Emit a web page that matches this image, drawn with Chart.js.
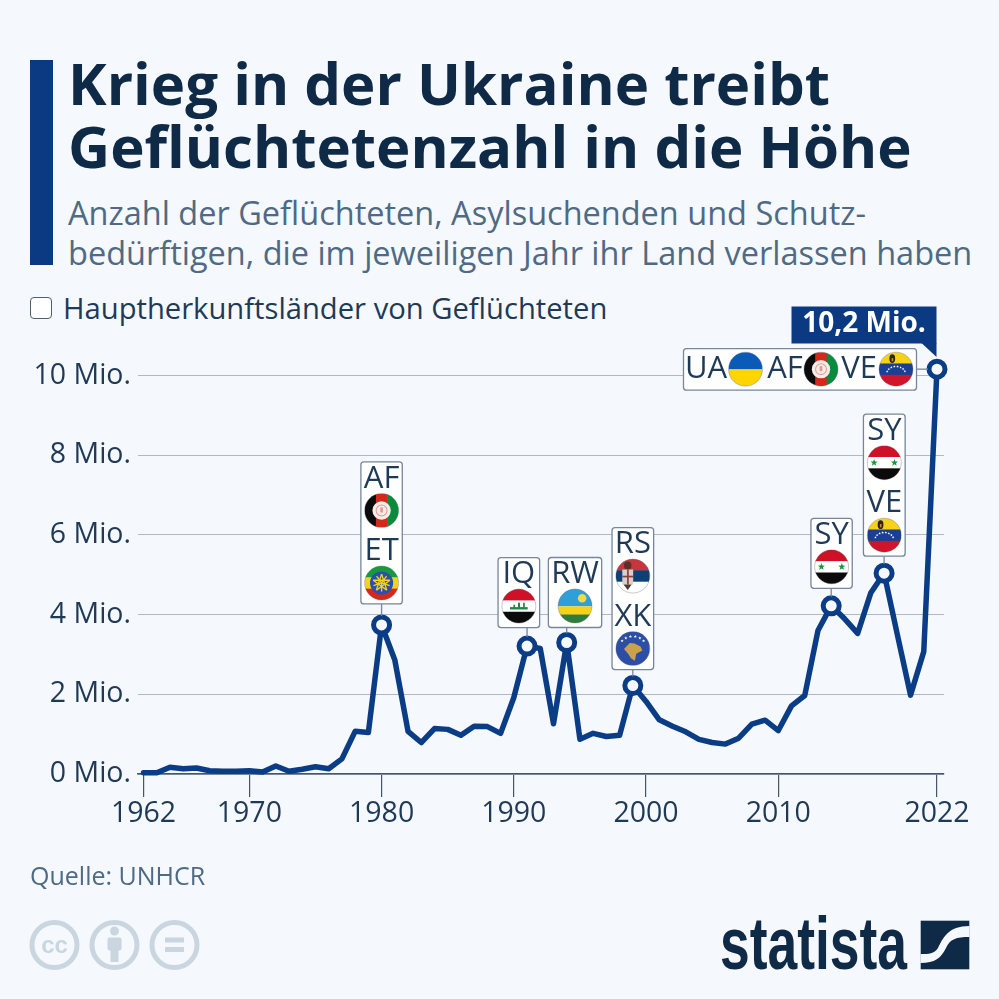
<!DOCTYPE html>
<html lang="de">
<head>
<meta charset="utf-8">
<title>Krieg in der Ukraine treibt Geflüchtetenzahl in die Höhe</title>
<script src="https://cdn.jsdelivr.net/npm/chart.js@4/dist/chart.umd.js"></script>
<style>
html,body{margin:0;padding:0;background:#f5f8fc;width:999px;height:999px;overflow:hidden;font-family:"Open Sans",sans-serif}
#chart{position:absolute;left:0;top:0}
.t{position:absolute;white-space:nowrap}
#bar{position:absolute;left:30px;top:60px;width:23px;height:205px;background:#0b3a82}
#title{left:68px;top:51px;font-size:58.2px;line-height:63px;font-weight:700;color:#0f2a47}
#sub{left:68px;top:193px;font-size:32.5px;line-height:40px;color:#4f6a85}
#check{position:absolute;left:30px;top:297px;width:20px;height:20px;background:#fff;border:1.5px solid #4c5f73;border-radius:4px}
#legend{left:63px;top:289px;font-size:29.2px;line-height:38px;color:#1f3a56}
#src{left:30px;top:860px;font-size:25px;line-height:30px;color:#4f6a85}
svg{position:absolute;left:0;top:0}
</style>
</head>
<body>
<div id="bar"></div>
<div class="t" id="title">Krieg in der Ukraine treibt<br>Geflüchtetenzahl in die Höhe</div>
<div class="t" id="sub">Anzahl der Geflüchteten, Asylsuchenden und Schutz-<br>bedürftigen, die im jeweiligen Jahr ihr Land verlassen haben</div>
<div id="check"></div>
<div class="t" id="legend">Hauptherkunftsländer von Geflüchteten</div>
<canvas id="chart" width="999" height="999"></canvas>
<div class="t" id="src">Quelle: UNHCR</div>
<svg width="999" height="999" viewBox="0 0 999 999">
  <g fill="none" stroke="#c9d6e0" stroke-width="5">
    <circle cx="54.5" cy="945" r="22.5"/><circle cx="114.5" cy="945" r="22.5"/><circle cx="174.5" cy="945" r="22.5"/>
  </g>
  <text x="54.5" y="953" text-anchor="middle" font-family="Liberation Sans" font-weight="700" font-size="24" fill="#c9d6e0">cc</text>
  <g fill="#c9d6e0">
    <circle cx="114.5" cy="931" r="4.5"/><rect x="107.5" y="937.5" width="14" height="13" rx="2"/><rect x="110.5" y="945" width="8" height="17"/>
    <rect x="165" y="937.5" width="19" height="5"/><rect x="165" y="947" width="19" height="5"/>
  </g>
  <text x="720" y="969.3" font-family="Liberation Sans Narrow, Liberation Sans" font-weight="700" font-size="74" fill="#0f2a47" textLength="187" lengthAdjust="spacingAndGlyphs">statista</text>
  <rect x="920.7" y="920.7" width="48.6" height="48.6" fill="#0f2a47"/>
  <path d="M969.5 926 C948 926 943 938 938 948 C934 954 929 954 920.5 954 V963 C935 963 941 958 946 948 C950 939 956 937 969.5 937 Z" fill="#f5f8fc"/>
</svg>
<script>
const years = [1962,1963,1964,1965,1966,1967,1968,1969,1970,1971,1972,1973,1974,1975,1976,1977,1978,1979,1980,1981,1982,1983,1984,1985,1986,1987,1988,1989,1990,1991,1992,1993,1994,1995,1996,1997,1998,1999,2000,2001,2002,2003,2004,2005,2006,2007,2008,2009,2010,2011,2012,2013,2014,2015,2016,2017,2018,2019,2020,2021,2022];
const refugees = [0.03,0.03,0.17,0.13,0.15,0.08,0.07,0.07,0.08,0.05,0.2,0.07,0.12,0.18,0.13,0.38,1.07,1.04,3.74,2.86,1.07,0.79,1.14,1.12,0.97,1.2,1.19,1.02,1.92,3.21,3.15,1.26,3.3,0.87,1.02,0.94,0.97,2.22,1.82,1.36,1.2,1.06,0.87,0.79,0.75,0.9,1.25,1.35,1.09,1.71,1.97,3.6,4.22,3.9,3.53,4.55,5.04,3.5,1.98,3.07,10.16];
const yTicks = [0,2,4,6,8,10];
const xTicks = [1962,1970,1980,1990,2000,2010,2022];
const markerYears = [1980,1991,1994,1999,2014,2018,2022];
const annoYears = [1980,1991,1994,1999,2014,2018];
const annoCodes = [['AF','ET'],['IQ'],['RW'],['RS','XK'],['SY'],['SY','VE']];
const topYear = 2022;
const topCodes = ['UA','AF','VE'];
const topLabel = '10,2 Mio.';

const NAVY='#0b3c86', INK='#1f3a56', BORDER='#77869a', GRID='#aeb9c6';

function band(c,r,cols,vertical){
  const n=cols.length;
  cols.forEach((col,i)=>{c.fillStyle=col;
    if(vertical)c.fillRect(-r+2*r*i/n,-r,2*r/n+.5,2*r);
    else c.fillRect(-r,-r+2*r*i/n,2*r,2*r/n+.5);});
}
function star(c,x,y,r,col){
  c.fillStyle=col;c.beginPath();
  for(let i=0;i<10;i++){const a=-Math.PI/2+i*Math.PI/5,q=i%2?r*.42:r;c.lineTo(x+q*Math.cos(a),y+q*Math.sin(a));}
  c.closePath();c.fill();
}
const flags={
  UA(c,r){band(c,r,['#0a5bb8','#ffd500']);},
  AF(c,r){band(c,r,['#0b0b0b','#d5281b','#0a8a3c'],true);
    c.fillStyle='#f8ece9';c.beginPath();c.arc(0,0,r*.54,0,7);c.fill();
    c.strokeStyle='#e39a90';c.lineWidth=r*.06;c.beginPath();c.arc(0,0,r*.32,0,7);c.stroke();
    c.fillStyle='#e39a90';c.fillRect(-r*.08,-r*.18,r*.16,r*.3);},
  ET(c,r){band(c,r,['#179a3f','#f4d31c','#d5281b']);
    c.fillStyle='#2a4fb0';c.beginPath();c.arc(0,0,r*.68,0,7);c.fill();
    c.strokeStyle='#f4d31c';c.lineWidth=r*.08;
    for(let i=0;i<5;i++){const a=-Math.PI/2+i*2*Math.PI/5,b=a+Math.PI*.8,e=a+Math.PI/5;
      c.beginPath();c.moveTo(Math.cos(a)*r*.52,Math.sin(a)*r*.52);c.lineTo(Math.cos(b)*r*.52,Math.sin(b)*r*.52);c.stroke();
      c.beginPath();c.moveTo(0,0);c.lineTo(Math.cos(e)*r*.5,Math.sin(e)*r*.5);c.stroke();}},
  IQ(c,r){band(c,r,['#ce1126','#ffffff','#0b0b0b']);
    c.fillStyle='#1d8a45';c.fillRect(-r*.52,r*.06,r*1.04,r*.14);c.fillRect(-r*.05,-r*.2,r*.12,r*.3);c.fillRect(r*.25,-r*.2,r*.1,r*.3);c.fillRect(-r*.32,-r*.08,r*.1,r*.2);},
  RW(c,r){c.fillStyle='#2f9fd8';c.fillRect(-r,-r,2*r,r*1.02);c.fillStyle='#f6d21a';c.fillRect(-r,r*.02,2*r,r*.5);c.fillStyle='#2f7d3c';c.fillRect(-r,r*.5,2*r,r*.5);
    c.fillStyle='#f4d84a';c.beginPath();c.arc(r*.42,-r*.45,r*.25,0,7);c.fill();},
  RS(c,r){band(c,r,['#c6363c','#0c4076','#ffffff']);
    c.fillStyle='#5b2f2a';c.beginPath();c.ellipse(-r*.3,-r*.62,r*.22,r*.24,0,0,7);c.fill();
    c.fillStyle='#d9cfc8';c.fillRect(-r*.62,-r*.38,r*.64,r*.88);
    c.fillStyle='#8a3f3c';c.fillRect(-r*.34,-r*.38,r*.1,r*.88);c.fillRect(-r*.62,-r*.02,r*.64,r*.1);
    c.fillStyle='#4a3a34';c.beginPath();c.moveTo(-r*.55,r*.5);c.lineTo(-r*.07,r*.5);c.lineTo(-r*.3,r*.82);c.closePath();c.fill();},
  XK(c,r){c.fillStyle='#2c4ea6';c.fillRect(-r,-r,2*r,2*r);
    c.fillStyle='#c9a24a';c.beginPath();
    [[-.52,.02],[-.18,-.32],[.1,-.3],[.45,-.12],[.56,.12],[.2,.3],[.12,.72],[-.1,.58],[-.28,.3]].forEach(p=>c.lineTo(p[0]*r,p[1]*r));c.closePath();c.fill();
    for(let i=0;i<6;i++){const a=-Math.PI*(.78-.112*i);star(c,Math.cos(a)*r*.82,Math.sin(a)*r*.74+r*.02,r*.1,'#fff');}},
  SY(c,r){band(c,r,['#ce1126','#ffffff','#0b0b0b']);star(c,-r*.6,0,r*.22,'#179a3f');star(c,r*.6,0,r*.22,'#179a3f');},
  VE(c,r){band(c,r,['#f7d116','#1a3f95','#cf142b']);
    for(let i=0;i<8;i++){const a=-Math.PI*(.88-.108*i);star(c,Math.cos(a)*r*.56,Math.sin(a)*r*.46+r*.3,r*.08,'#fff');}
    c.fillStyle='#2a2416';c.beginPath();c.ellipse(-r*.22,-r*.62,r*.17,r*.26,0,0,7);c.fill();
    c.fillStyle='#c08a2a';c.fillRect(-r*.26,-r*.66,r*.1,r*.2);}
};
function drawFlag(c,code,x,y,r){
  c.save();c.translate(x,y);c.beginPath();c.arc(0,0,r,0,Math.PI*2);c.clip();
  flags[code](c,r);
  c.restore();
  c.save();c.strokeStyle='rgba(90,100,110,.35)';c.lineWidth=1;c.beginPath();c.arc(x,y,r,0,Math.PI*2);c.stroke();c.restore();
}
function roundBox(c,x,y,w,h){
  c.save();c.beginPath();c.roundRect(x,y,w,h,3);c.fillStyle='#fff';c.fill();c.strokeStyle=BORDER;c.lineWidth=1.3;c.stroke();c.restore();
}
function line(c,x1,y1,x2,y2){c.save();c.strokeStyle=BORDER;c.lineWidth=1.3;c.beginPath();c.moveTo(x1,y1);c.lineTo(x2,y2);c.stroke();c.restore();}
function label(c,txt,x,y,size,col,weight){
  c.save();c.font=(weight||'400')+' '+size+'px "Open Sans"';c.fillStyle=col;c.textAlign='center';c.textBaseline='middle';c.fillText(txt,x,y+1);c.restore();
}

const annoLayout = {1980:{w:41.4,dx:0,gap:21},1991:{w:41.6,dx:-8.2,gap:18.5},1994:{w:53.3,dx:8.3,gap:15},1999:{w:41.6,dx:0,gap:16},2014:{w:41.3,dx:.4,gap:17.5},2018:{w:41.7,dx:.2,gap:17}};

const annotations = {
  id:'annotations',
  afterDatasetsDraw(ch){
    const c=ch.ctx,X=ch.scales.x,Y=ch.scales.y;
    annoYears.forEach((yr,i)=>{
      const codes=annoCodes[i],L=annoLayout[yr];
      const px=X.getPixelForValue(yr),py=Y.getPixelForValue(refugees[years.indexOf(yr)]);
      const h=codes.length*69+(codes.length-1)*3+1,bottom=py-L.gap,top=bottom-h;
      const cx=px+L.dx;
      line(c,px,bottom,px,py-9);
      roundBox(c,cx-L.w/2,top,L.w,h);
      codes.forEach((code,k)=>{
        const off=top+k*72.5;
        label(c,code,cx,off+16,31,INK);
        drawFlag(c,code,cx,off+48.5,17);
      });
    });
    const px=X.getPixelForValue(topYear),py=Y.getPixelForValue(refugees[years.indexOf(topYear)]);
    const bx=683.5,bw=233,by=py-20.5,bh=41.5;
    line(c,bx+bw,py,px-9,py);
    roundBox(c,bx,by,bw,bh);
    [[706,745.5],[785,821],[859,896]].forEach((p,k)=>{
      label(c,topCodes[k],p[0],py-1,31,INK);
      drawFlag(c,topCodes[k],p[1],py,17);
    });
    c.save();c.fillStyle='#0b3a82';c.fillRect(791.5,306.5,145,37);
    c.beginPath();c.moveTo(921.5,343);c.lineTo(936.5,343);c.lineTo(936.5,357);c.closePath();c.fill();c.restore();
    label(c,topLabel,864,323.5,28,'#ffffff','700');
  }
};

new Chart(document.getElementById('chart'),{
  type:'line',
  data:{datasets:[{
    label:'Hauptherkunftsländer von Geflüchteten',
    data:years.map((y,i)=>({x:y,y:refugees[i]})),
    borderColor:NAVY,borderWidth:5.5,tension:0,fill:false,clip:false,
    borderJoinStyle:'round',borderCapStyle:'round',
    pointRadius:ctx=>markerYears.includes(years[ctx.dataIndex])?8:0,
    pointBackgroundColor:'#f5f8fc',pointBorderColor:NAVY,pointBorderWidth:5,pointHoverRadius:0
  }]},
  options:{
    responsive:false,animation:false,devicePixelRatio:1,
    layout:{padding:{left:0,right:55,top:355.6,bottom:0}},
    plugins:{legend:{display:false},tooltip:{enabled:false}},
    scales:{
      x:{type:'linear',min:1961.58,max:2022.53,
        afterBuildTicks:s=>{s.ticks=xTicks.map(v=>({value:v}));},
        afterFit:s=>{s.height=225;},
        grid:{drawOnChartArea:false,drawTicks:true,tickLength:23,color:'#44566b',lineWidth:1.2},
        border:{display:true,color:'#44566b',width:1.4},
        ticks:{maxRotation:0,autoSkip:false,padding:0,color:INK,font:{family:'"Open Sans"',size:28.5},callback:v=>String(v)}
      },
      y:{type:'linear',min:0,max:10.5,
        afterBuildTicks:s=>{s.ticks=yTicks.map(v=>({value:v}));},
        afterFit:s=>{s.width=138;},
        grid:{drawTicks:false,color:GRID,lineWidth:1},
        border:{display:false},
        ticks:{padding:7,color:INK,font:{family:'"Open Sans"',size:28.5},callback:v=>v+' Mio.'}
      }
    }
  },
  plugins:[annotations]
});
</script>
</body>
</html>
